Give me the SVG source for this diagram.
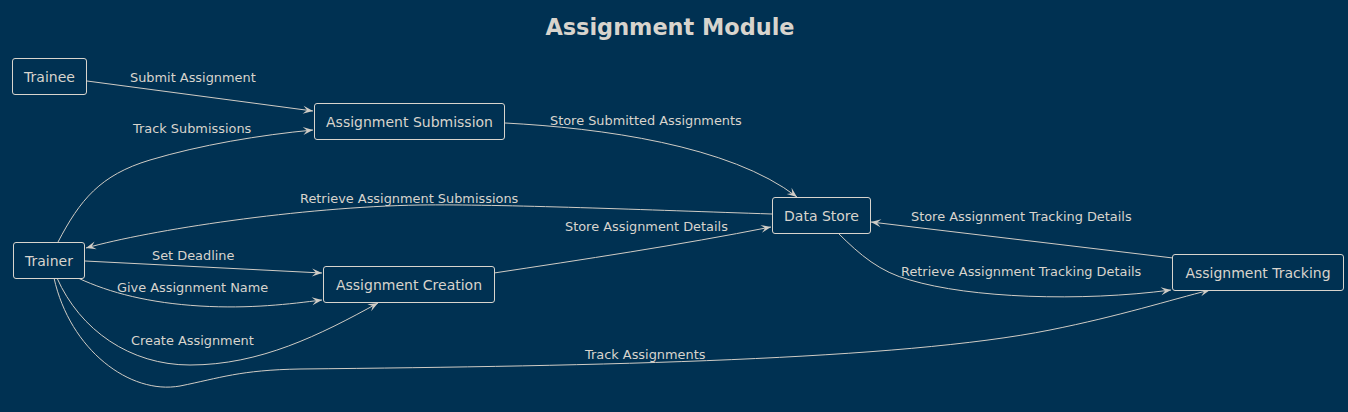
<svg xmlns="http://www.w3.org/2000/svg" width="1348" height="412" viewBox="0 0 1348 412">
<defs>
<style>
.node rect{fill:#003152;stroke:#d8d4cd;stroke-width:1}
.node text{font-family:"DejaVu Sans",sans-serif;font-size:14px;fill:#d8d4cd;text-anchor:middle}
.edge path{fill:none;stroke:#d0ccc5;stroke-width:1}
.lbl{font-family:"DejaVu Sans",sans-serif;font-size:12.9px;fill:#d8d4cd}
.title{font-family:"DejaVu Sans",sans-serif;font-size:22.4px;font-weight:bold;fill:#d8d4cd;text-anchor:middle}
</style>
<marker id="ah" viewBox="-11 -5 12 10" refX="0" refY="0" markerWidth="12" markerHeight="10" markerUnits="userSpaceOnUse" orient="auto">
<path d="M0,0 L-10,-4 L-6,0 L-10,4 Z" fill="#d0ccc5"/>
</marker>
</defs>
<rect x="0" y="0" width="1348" height="412" fill="#003152"/>
<text class="title" x="670" y="35">Assignment Module</text>

<g id="connectors" class="edge">
<path d="M87,81 L313,111" marker-end="url(#ah)"/>
<path d="M58,242 C80,200 100,175 150,160 C200,145 260,135 313,130" marker-end="url(#ah)"/>
<path d="M505,123 C600,128 730,145 797,197" marker-end="url(#ah)"/>
<path d="M772,214 C650,210 500,204 420,205 C300,207 150,230 86,248" marker-end="url(#ah)"/>
<path d="M85,261 L322,273" marker-end="url(#ah)"/>
<path d="M78,278 C110,293 150,303 200,306 C250,309 290,304 322,300" marker-end="url(#ah)"/>
<path d="M57,278 C80,330 130,365 190,365 C260,365 320,335 378,303" marker-end="url(#ah)"/>
<path d="M54,278 C70,350 130,395 180,386 C220,378 240,370 300,369 C600,366 900,360 1050,330 C1120,316 1170,300 1210,290" marker-end="url(#ah)"/>
<path d="M494,273 C580,260 680,245 771,227" marker-end="url(#ah)"/>
<path d="M1173,258 L871,222" marker-end="url(#ah)"/>
<path d="M838,233 C860,255 880,272 910,280 C970,298 1080,302 1171,290" marker-end="url(#ah)"/>
</g>
<g id="labels">
<text class="lbl" x="130" y="82">Submit Assignment</text>
<text class="lbl" x="133" y="133">Track Submissions</text>
<text class="lbl" x="550" y="125">Store Submitted Assignments</text>
<text class="lbl" x="300" y="203">Retrieve Assignment Submissions</text>
<text class="lbl" x="152" y="260">Set Deadline</text>
<text class="lbl" x="117" y="292">Give Assignment Name</text>
<text class="lbl" x="131" y="345">Create Assignment</text>
<text class="lbl" x="585" y="359">Track Assignments</text>
<text class="lbl" x="565" y="231">Store Assignment Details</text>
<text class="lbl" x="911" y="221">Store Assignment Tracking Details</text>
<text class="lbl" x="901" y="276">Retrieve Assignment Tracking Details</text>
</g>

<g id="trainee" class="node"><rect x="12.5" y="58.5" width="74" height="36" rx="2.5"/><text x="49.5" y="81.5">Trainee</text></g>
<g id="submission" class="node"><rect x="314.5" y="103.5" width="190" height="36" rx="2.5"/><text x="409.5" y="126.5">Assignment Submission</text></g>
<g id="trainer" class="node"><rect x="13.5" y="242.5" width="71" height="36" rx="2.5"/><text x="49" y="265.5">Trainer</text></g>
<g id="creation" class="node"><rect x="323.5" y="266.5" width="171" height="36" rx="2.5"/><text x="409" y="289.5">Assignment Creation</text></g>
<g id="datastore" class="node"><rect x="772.5" y="197.5" width="98" height="36" rx="2.5"/><text x="821.5" y="220.5">Data Store</text></g>
<g id="tracking" class="node"><rect x="1172.5" y="254.5" width="171" height="36" rx="2.5"/><text x="1258" y="277.5">Assignment Tracking</text></g>
</svg>
